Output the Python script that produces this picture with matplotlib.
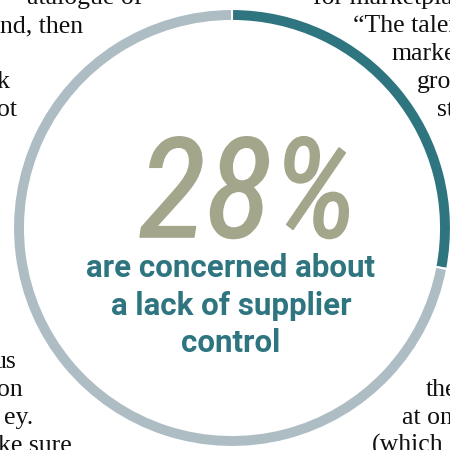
import matplotlib
matplotlib.use("Agg")
import matplotlib.pyplot as plt
from matplotlib import font_manager, patheffects

# share of respondents and the rest of the ring
share = [28, 72]
ring_colors = ["#2e7580", "#aebcc4"]
big_label = "28%"
caption = ["are concerned about", "a lack of supplier", "control"]

# surrounding article text (cropped by the frame)
left_top = ["atalogue of", "nd, then", "k", "ot"]
left_top_rows = [0, 1, 3, 4]
left_top_end = [142, 83, 9, 17]
left_bot = ["us", "on", "ey.", "ke sure"]
left_bot_rows = [13, 14, 15, 16]
left_bot_end = [16, 23, 33, 72]
right_top = ["for marketplaces", "\u201cThe talent", "market", "grow", "st"]
right_top_rows = [0, 1, 2, 3, 4]
right_top_start = [313, 353, 391, 417, 437]
right_bot = ["the", "at one", "(which"]
right_bot_rows = [14, 15, 16]
right_bot_start = [426, 402, 372]

W = H = 450
teal = "#2e7580"
olive = "#a3a68a"

avail = {f.name for f in font_manager.fontManager.ttflist}
big_family = next((f for f in ["Roboto Condensed", "Liberation Sans Narrow",
                               "DejaVu Sans"] if f in avail), "DejaVu Sans")

fig = plt.figure(figsize=(4.5, 4.5), dpi=100)
ax = fig.add_axes([0, 0, 1, 1])

ax.pie(share, colors=ring_colors, startangle=90, counterclock=False,
       radius=219, center=(232, H - 228),
       wedgeprops=dict(width=12, edgecolor="white", linewidth=1.5))
ax.set_xlim(0, W)
ax.set_ylim(0, H)
ax.set_aspect("equal")
ax.axis("off")


def row_y(r):
    return H - (4 + 28 * r)


body = dict(family="Liberation Serif", fontsize=18.5, color="#111111",
            va="baseline")
for s, r, x in zip(left_top, left_top_rows, left_top_end):
    ax.text(x, row_y(r), s, ha="right", **body)
for s, r, x in zip(left_bot, left_bot_rows, left_bot_end):
    ax.text(x, row_y(r), s, ha="right", **body)
for s, r, x in zip(right_top, right_top_rows, right_top_start):
    ax.text(x, row_y(r), s, ha="left", **body)
for s, r, x in zip(right_bot, right_bot_rows, right_bot_start):
    ax.text(x, row_y(r), s, ha="left", **body)

ax.text(248, H - 237, big_label, family=big_family, style="italic",
        fontsize=100, color=olive, ha="center", va="baseline",
        path_effects=[patheffects.withStroke(linewidth=1.2, foreground=olive)])

for s, y in zip(caption, [277, 315, 352]):
    ax.text(231, H - y, s, family="Roboto", weight="bold", fontsize=22.5,
            color=teal, ha="center", va="baseline")

fig.savefig("out.png", dpi=100)
